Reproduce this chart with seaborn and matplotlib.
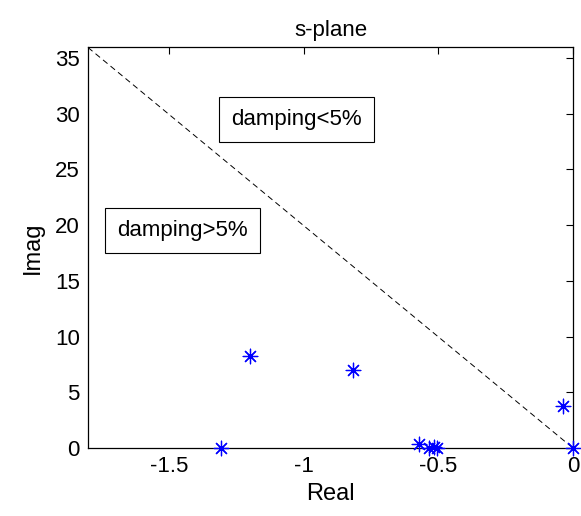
import matplotlib as mpl
import matplotlib.pyplot as plt
import seaborn as sns
import pandas as pd

# pole locations
real_part = [-1.305, -1.199, -0.818, -0.572, -0.534, -0.516, -0.503, -0.036, 0.0]
imag_part = [0.0, 8.29, 7.0, 0.36, 0.0, 0.05, 0.0, 3.77, 0.0]

# 5% damping boundary
line_real = [-1.8, 0.0]
line_imag = [35.95, 0.0]

labels = ['damping<5%', 'damping>5%']
label_x = [-1.026, -1.449]
label_y = [29.5, 19.5]

sns.set_style('white')
mpl.rcParams['font.family'] = ['Liberation Sans', 'DejaVu Sans']
mpl.rcParams['xtick.direction'] = 'in'
mpl.rcParams['ytick.direction'] = 'in'
mpl.rcParams['text.color'] = 'black'
mpl.rcParams['axes.labelcolor'] = 'black'
mpl.rcParams['xtick.color'] = 'black'
mpl.rcParams['ytick.color'] = 'black'

fig = plt.figure(figsize=(5.81, 5.16), dpi=100)
ax = fig.add_axes([0.1515, 0.1318, 0.8345, 0.7772])

df = pd.DataFrame({'Real': real_part, 'Imag': imag_part})
sns.lineplot(x=line_real, y=line_imag, ax=ax, color='black', linewidth=0.7,
             linestyle=(0, (6, 4)), sort=False)
sns.scatterplot(data=df, x='Real', y='Imag', ax=ax, marker=(8, 2, 0), s=110,
                color='blue', linewidth=0.9, zorder=3, clip_on=False)

for t, x, y in zip(labels, label_x, label_y):
    ax.text(x, y, t, ha='center', va='center', fontsize=16,
            bbox=dict(boxstyle='square,pad=0.55', facecolor='white',
                      edgecolor='black', linewidth=0.8))

ax.set_xlim(-1.8, 0)
ax.set_ylim(0, 36)
ax.set_xticks([-1.5, -1, -0.5, 0])
ax.set_xticklabels(['-1.5', '-1', '-0.5', '0'])
ax.set_yticks(range(0, 36, 5))
ax.tick_params(axis='both', labelsize=16, length=5, width=0.8,
               top=True, right=True, pad=6)
for s in ax.spines.values():
    s.set_color('black')
    s.set_linewidth(0.9)

ax.set_xlabel('Real', fontsize=17, labelpad=4)
ax.set_ylabel('Imag', fontsize=17, labelpad=8)
ax.set_title('s-plane', fontsize=16, pad=8)

fig.savefig('out.png', dpi=100)
